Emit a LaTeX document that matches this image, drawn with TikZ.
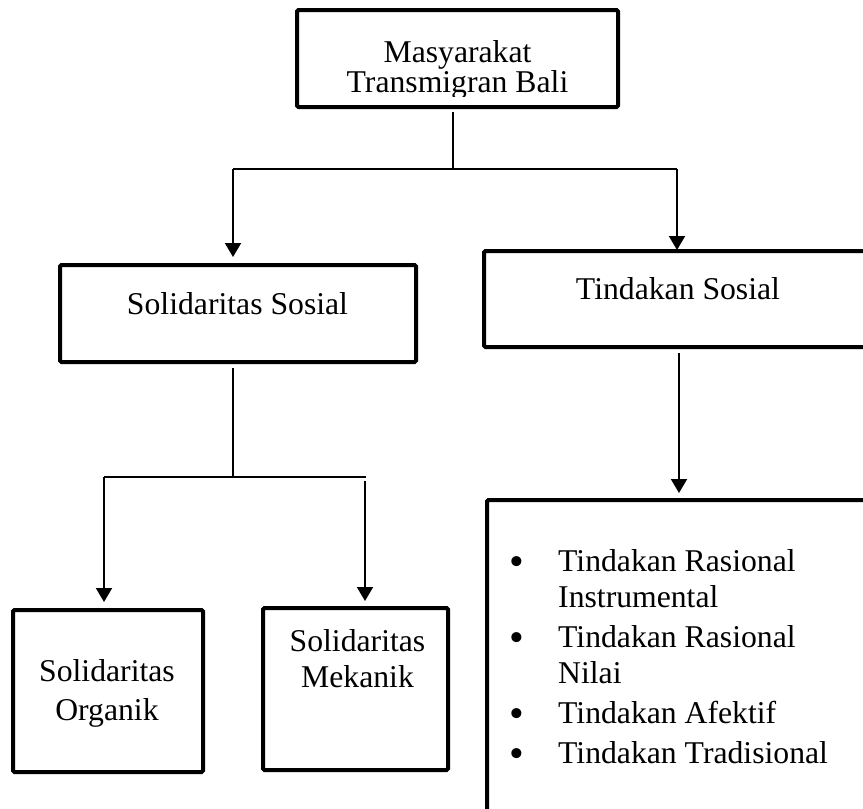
\documentclass[tikz,border=0pt]{standalone}
\usepackage{fontspec}
\setmainfont{Liberation Serif}
\usetikzlibrary{arrows.meta}
\newcommand{\bigbul}{\makebox[50pt][l]{\hspace*{1pt}\raisebox{-4pt}{\fontsize{42}{36}\selectfont •}}}
\begin{document}
\begin{tikzpicture}[x=1pt,y=-1pt,
  box/.style={draw, line width=4pt, rounded corners=1.5pt, inner sep=0pt, outer sep=0pt},
  lbl/.style={inner sep=0pt, anchor=base, align=center, font=\fontsize{31.7}{36}\selectfont},
  conn/.style={line width=1.3pt},
  arr/.style={line width=2pt, -{Triangle[width=16pt,length=14pt]}}]
\useasboundingbox (0,0) rectangle (863,809);
\clip (0,0) rectangle (863,809);
% text
\begin{scope}
\clip (297,10) rectangle (618,96);
\node[lbl, font=\fontsize{31.7}{30}\selectfont] (topt) at (457.5,92) {Masyarakat\\Transmigran Bali};
\end{scope}
\node[lbl] (sst) at (237.5,314) {Solidaritas Sosial};
\node[lbl] (tst) at (678,299) {Tindakan Sosial};
\node[lbl, font=\fontsize{31.7}{39}\selectfont] (orgt) at (107,720) {Solidaritas\\Organik};
\node[lbl] (mekt) at (357.5,687) {Solidaritas\\Mekanik};
\node[lbl, anchor=base west, align=left] (listt) at (508,763)
  {\bigbul Tindakan Rasional\\\hspace*{50pt}Instrumental\\[4pt]
   \bigbul Tindakan Rasional\\\hspace*{50pt}Nilai\\[4pt]
   \bigbul Tindakan Afektif\\[4pt]
   \bigbul Tindakan Tradisional};
% boxes
\node[box, minimum width=321pt, minimum height=97pt] (top) at (457.5,58.5) {};
\node[box, minimum width=356pt, minimum height=97pt] (ss) at (238,313.5) {};
\node[box, minimum width=436pt, minimum height=96pt] (ts) at (702,299) {};
\node[box, minimum width=190pt, minimum height=162pt] (org) at (108,691) {};
\node[box, minimum width=185pt, minimum height=162pt] (mek) at (355.5,689) {};
\node[box, minimum width=433pt, minimum height=380pt] (lst) at (703.5,690) {};
% connectors
\coordinate (j1) at (453,169);
\coordinate (jL) at (233,169);
\coordinate (jR) at (677,169);
\draw[conn] ([yshift=-5pt]top.south -| j1) -- (j1);
\draw[conn] (jL) -- (jR);
\draw[arr] (jL) -- ([yshift=8pt]ss.north -| jL);
\draw[arr] (jR) -- ([yshift=1pt]ts.north -| jR);
\coordinate (j2) at (233,477);
\coordinate (j2L) at (104,477);
\coordinate (j2R) at (366,477);
\coordinate (m1) at (365,481);
\draw[conn] ([yshift=-6pt]ss.south -| j2) -- (j2);
\draw[conn] (j2L) -- (j2R);
\draw[arr] (j2L) -- ([yshift=8pt]org.north -| j2L);
\draw[arr] (m1) -- ([yshift=7pt]mek.north -| m1);
\coordinate (t1) at (679,353);
\draw[arr] (t1) -- ([yshift=7pt]lst.north -| t1);
\end{tikzpicture}
\end{document}
